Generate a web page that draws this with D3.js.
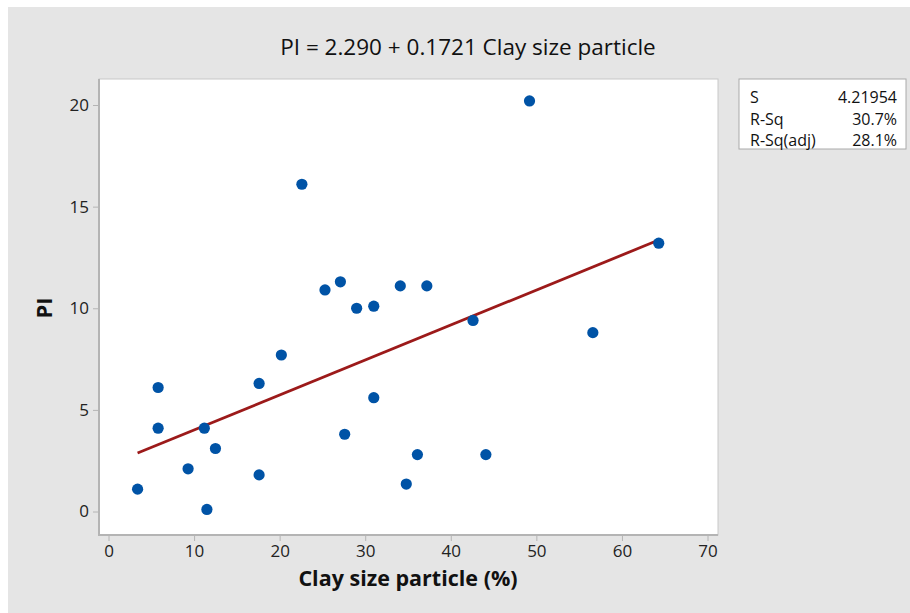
<!DOCTYPE html>
<html>
<head>
<meta charset="utf-8">
<script src="https://cdn.jsdelivr.net/npm/d3@7"></script>
<style>
  body { margin: 0; background: #fff; }
  svg { display: block; }
</style>
</head>
<body>
<svg id="chart"></svg>
<script>
// clay size particle (%) vs PI
var clay = [3.4, 5.8, 5.8, 9.3, 11.2, 12.5, 11.5, 17.6, 17.6, 20.2, 22.6, 25.3, 27.1,
            27.6, 29.0, 31.0, 31.0, 34.1, 34.8, 36.1, 37.2, 42.6, 44.1, 49.2, 56.6, 64.3];
var pi   = [1.1, 6.1, 4.1, 2.1, 4.1, 3.1, 0.1, 6.3, 1.8, 7.7, 16.1, 10.9, 11.3,
            3.8, 10.0, 10.1, 5.6, 11.1, 1.35, 2.8, 11.1, 9.4, 2.8, 20.2, 8.8, 13.2];

// fitted line from the title
var intercept = 2.290;
var slope = 0.1721;

var statLabels = ["S", "R-Sq", "R-Sq(adj)"];
var statValues = ["4.21954", "30.7%", "28.1%"];

var xTicks = [0, 10, 20, 30, 40, 50, 60, 70];
var yTicks = [0, 5, 10, 15, 20];

var width = 910, height = 613;
var font = "'Open Sans', 'Noto Sans', sans-serif";
var point_color = "#0053a6";
var line_color = "#9c1a1a";
var axis_color = "#b4b4b4";

var svg = d3.select("#chart")
    .attr("width", width)
    .attr("height", height)
    .attr("font-family", font);

// gray page behind everything
svg.append("rect")
    .attr("x", 8).attr("y", 7)
    .attr("width", width - 8).attr("height", height - 7)
    .attr("fill", "#e5e5e5");

var plot = {left: 99, top: 79, right: 718, bottom: 535};

var x = d3.scaleLinear().domain([0, 70]).range([108.5, 707.5]);
var y = d3.scaleLinear().domain([0, 20]).range([511.5, 105]);

svg.append("rect")
    .attr("x", plot.left).attr("y", plot.top)
    .attr("width", plot.right - plot.left)
    .attr("height", plot.bottom - plot.top)
    .attr("fill", "#fff")
    .attr("stroke", "#c8c8c8")
    .attr("stroke-width", 1);

// axes
var xAxis = svg.append("g")
    .attr("transform", "translate(0," + plot.bottom + ")")
    .call(d3.axisBottom(x).tickValues(xTicks).tickSize(6).tickSizeOuter(0).tickPadding(4));

var yAxis = svg.append("g")
    .attr("transform", "translate(" + plot.left + ",0)")
    .call(d3.axisLeft(y).tickValues(yTicks).tickSize(6).tickSizeOuter(0).tickPadding(4));

[xAxis, yAxis].forEach(function(ax) {
  ax.select(".domain").remove();
  ax.selectAll(".tick line").attr("stroke", axis_color);
  ax.selectAll(".tick text")
    .attr("fill", "#222")
    .style("font-size", "17px")
    .style("font-family", font);
});

// axis lines (a bit heavier than the frame)
svg.append("line")
    .attr("x1", plot.left).attr("x2", plot.left)
    .attr("y1", plot.top).attr("y2", plot.bottom + 1)
    .attr("stroke", axis_color).attr("stroke-width", 2);
svg.append("line")
    .attr("x1", plot.left - 1).attr("x2", plot.right)
    .attr("y1", plot.bottom).attr("y2", plot.bottom)
    .attr("stroke", axis_color).attr("stroke-width", 2);

// regression line over the data range
var xr = d3.extent(clay);
var fitLine = d3.line()
    .x(function(d) { return x(d); })
    .y(function(d) { return y(intercept + slope * d); });

svg.append("path")
    .attr("d", fitLine(xr))
    .attr("stroke", line_color)
    .attr("stroke-width", 2.8)
    .attr("fill", "none");

// points
svg.append("g").selectAll("circle")
    .data(d3.zip(clay, pi))
    .join("circle")
    .attr("cx", function(d) { return x(d[0]); })
    .attr("cy", function(d) { return y(d[1]); })
    .attr("r", 5.6)
    .attr("fill", point_color);

// titles
svg.append("text")
    .attr("x", 468).attr("y", 55)
    .attr("text-anchor", "middle")
    .attr("font-size", 22.5)
    .attr("fill", "#111")
    .text("PI = " + intercept.toFixed(3) + " + " + slope.toFixed(4) + " Clay size particle");

svg.append("text")
    .attr("x", 408).attr("y", 586)
    .attr("text-anchor", "middle")
    .attr("font-size", 21.5)
    .attr("font-weight", "bold")
    .attr("fill", "#111")
    .text("Clay size particle (%)");

svg.append("text")
    .attr("transform", "translate(52,308) rotate(-90)")
    .attr("text-anchor", "middle")
    .attr("font-size", 22)
    .attr("font-weight", "bold")
    .attr("fill", "#111")
    .text("PI");

// stats box
var box = svg.append("g").attr("transform", "translate(739,79)");
box.append("rect")
    .attr("width", 167).attr("height", 70)
    .attr("fill", "#fff")
    .attr("stroke", "#aaa");

box.selectAll("text.lab")
    .data(statLabels)
    .join("text")
    .attr("class", "lab")
    .attr("x", 11)
    .attr("y", function(d, i) { return 24 + i * 21.5; })
    .attr("font-size", 16)
    .attr("fill", "#111")
    .text(function(d) { return d; });

box.selectAll("text.val")
    .data(statValues)
    .join("text")
    .attr("class", "val")
    .attr("x", 158)
    .attr("y", function(d, i) { return 24 + i * 21.5; })
    .attr("text-anchor", "end")
    .attr("font-size", 16)
    .attr("fill", "#111")
    .text(function(d) { return d; });
</script>
</body>
</html>
